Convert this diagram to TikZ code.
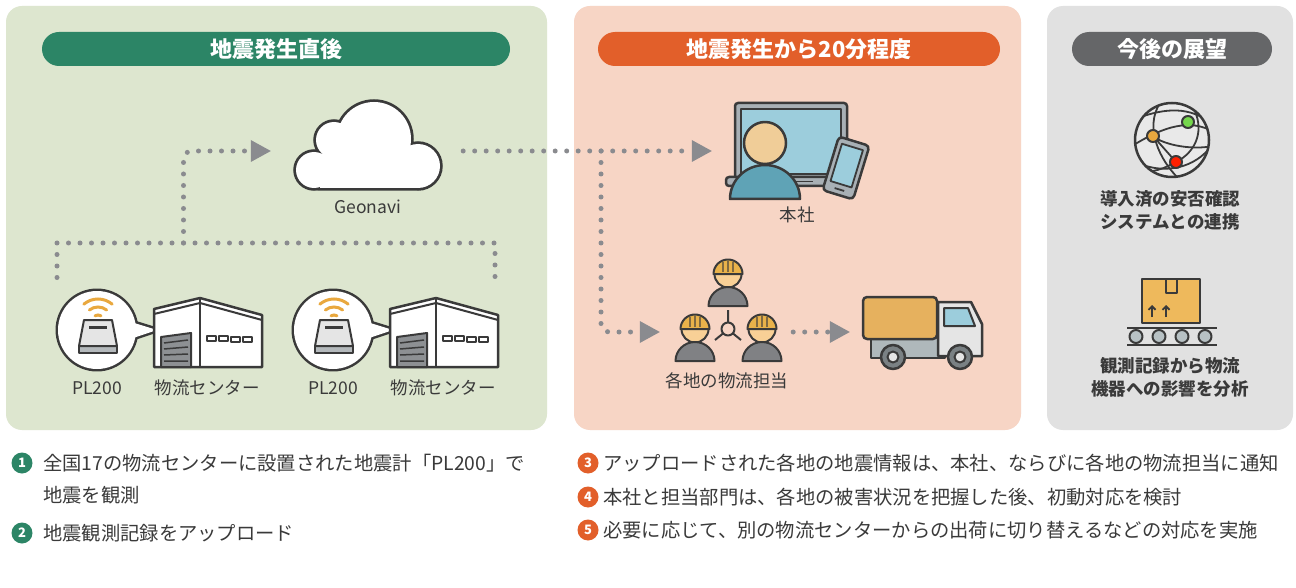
\documentclass[tikz,border=0pt]{standalone}
\usepackage{fontspec}
\setmainfont{Noto Sans CJK JP}
\usetikzlibrary{arrows.meta}

\begin{document}
\begin{tikzpicture}[x=1pt, y=-1pt,
    flowline/.style={draw=dotgray, line width=5pt, line cap=round, dash pattern=on 0pt off 11.5pt},
    flowhead/.style={-{Triangle[length=20pt, width=22pt, line width=0pt]}},
    pill/.style={rounded corners=17pt, minimum height=34pt, inner sep=0pt, text=white, font=\bfseries\fontsize{22}{24}\selectfont},
    lbl/.style={text=ink, font=\fontsize{17.5}{22}\selectfont, inner sep=0pt},
    lblbold/.style={lbl, font=\bfseries\fontsize{17.5}{23}\selectfont, align=center},
    note/.style={anchor=west, text=ink, font=\fontsize{19.3}{23}\selectfont, inner sep=0pt},
    num/.style={circle, minimum size=21pt, inner sep=0pt, text=white, font=\bfseries\fontsize{13}{13}\selectfont},
    outline/.style={draw=ink, line width=2.5pt, line join=round},
    spot/.style={minimum width=#1, minimum height=10pt, inner sep=0pt}]
  \definecolor{ink}{RGB}{58,58,58}
  \definecolor{dotgray}{RGB}{138,139,143}
  \definecolor{greenbg}{RGB}{221,230,207}
  \definecolor{orangebg}{RGB}{247,213,197}
  \definecolor{graybg}{RGB}{225,225,225}
  \definecolor{hdgreen}{RGB}{44,133,102}
  \definecolor{hdorange}{RGB}{226,95,42}
  \definecolor{hdgray}{RGB}{101,102,104}
  \definecolor{devbody}{RGB}{229,229,229}
  \definecolor{devbase}{RGB}{180,185,188}
  \definecolor{wifi}{RGB}{233,168,62}
  \definecolor{shutter}{RGB}{141,144,147}
  \definecolor{frame}{RGB}{168,176,181}
  \definecolor{screen}{RGB}{156,205,220}
  \definecolor{skin}{RGB}{240,205,152}
  \definecolor{shirt}{RGB}{95,163,182}
  \definecolor{helmet}{RGB}{233,178,74}
  \definecolor{face}{RGB}{248,208,150}
  \definecolor{suit}{RGB}{128,129,132}
  \definecolor{cargo}{RGB}{230,177,94}
  \definecolor{cab}{RGB}{229,229,229}
  \definecolor{chassis}{RGB}{175,184,187}
  \definecolor{tire}{RGB}{122,129,132}
  \definecolor{globefill}{RGB}{233,233,233}
  \definecolor{crate}{RGB}{238,185,92}
  \definecolor{roller}{RGB}{183,193,196}

  \useasboundingbox (0,0) rectangle (1296,588);
  \fill[white] (0,0) rectangle (1296,588);

  \fill[greenbg, rounded corners=16pt] (6,6) rectangle (547,430);
  \fill[orangebg, rounded corners=16pt] (574,6) rectangle (1021,430);
  \fill[graybg, rounded corners=16pt] (1047,6) rectangle (1293,430);

  \node[pill, fill=hdgreen, minimum width=468pt] (hdA) at (276,49) {地震発生直後};
  \node[pill, fill=hdorange, minimum width=402pt] (hdB) at (799,49) {地震発生から20分程度};
  \node[pill, fill=hdgray, minimum width=200pt] (hdC) at (1172,49) {今後の展望};

  \node[spot=144pt] (geo) at (368,151) {};
  \draw[ink, line width=5.5pt] (314,170) circle (18) (334,140) circle (18) (374,139) circle (37) (418,166) circle (22) (320,156) rectangle (418,188);
  \fill[white] (314,170) circle (18) (334,140) circle (18) (374,139) circle (37) (418,166) circle (22);
  \fill[white] (320,156) rectangle (418,188);
  \node[lbl] (geolbl) at (368,207) {Geonavi};

  \foreach \sx/\nm in {0/a, 236/b}{
    \begin{scope}[xshift=\sx]
      \draw[outline, line width=5pt] (97,330) circle (39);
      \draw[outline, line width=5pt] (118,318) -- (157,330) -- (118,343) -- cycle;
      \fill[white] (97,330) circle (39);
      \fill[white] (118,318) -- (157,330) -- (118,343) -- cycle;
      \node[spot=78pt] (sen\nm) at (97,330) {};
      \draw[outline, line width=2pt, fill=devbase] (79,346) rectangle (117,353);
      \draw[outline, line width=2pt, fill=devbody] (84,320) -- (112,320) -- (117,346) -- (79,346) -- cycle;
      \draw[ink, line width=3pt] (89,327) -- (107,327);
      \draw[wifi, line width=3pt, line cap=round] (98,321) ++(230:22) arc[start angle=230, end angle=310, radius=22];
      \draw[wifi, line width=3pt, line cap=round] (98,321) ++(232:14) arc[start angle=232, end angle=308, radius=14];
      \draw[wifi, line width=3pt, line cap=round] (98,321) ++(240:6) arc[start angle=240, end angle=300, radius=6];

      \node[spot=108pt] (ware\nm) at (208,335) {};
      \draw[outline, fill=white] (154,309) -- (200,298) -- (262,315) -- (262,367) -- (154,367) -- cycle;
      \draw[outline] (200,298) -- (200,367);
      \draw[outline, line width=2pt] (154,314) -- (200,303) -- (262,320);
      \draw[outline, line width=2pt, fill=shutter] (161,337) -- (191,333) -- (191,367) -- (161,367) -- cycle;
      \draw[ink, line width=1.5pt] (164,343) -- (188,340) (164,349) -- (188,347) (164,355) -- (188,354) (164,361) -- (188,361);
      \draw[outline, line width=1.6pt, fill=white] (207,336) rectangle (216,341) (219,336) rectangle (228,341) (231,337) rectangle (240,342) (243,337) rectangle (252,342);

      \node[lbl] (pl\nm) at (97,388) {PL200};
      \node[lbl] (wh\nm) at (207,388) {物流センター};
    \end{scope}
  }

  \node[spot=112pt] (hq) at (791,151) {};
  \draw[outline, fill=frame, rounded corners=3pt] (735,103) rectangle (847,180);
  \draw[outline, line width=2pt, fill=screen] (741,109) rectangle (841,174);
  \draw[outline, fill=frame, rounded corners=3pt] (726,177) rectangle (849,186);
  \draw[ink, line width=1.5pt] (796,181.5) -- (813,181.5);
  \draw[outline, fill=shirt] (730,199) arc[start angle=180, end angle=360, x radius=35, y radius=34] -- cycle;
  \draw[outline, fill=skin] (765,143) circle (21);
  \begin{scope}[shift={(846,168)}, rotate=-17]
    \draw[outline, fill=frame, rounded corners=4pt] (-16,-28) rectangle (16,28);
    \draw[outline, line width=1.8pt, fill=screen] (-11,-22) rectangle (11,17);
    \draw[ink, line width=1.8pt] (-5,22.5) -- (5,22.5);
  \end{scope}
  \node[lbl] (hqlbl) at (797,215) {本社};

  \node[spot=110pt] (team) at (728,332) {};
  \foreach \px/\py in {728/274, 695/329, 762/329}{
    \draw[outline, line width=2pt, fill=face] (\px,\py) circle (13.5);
    \draw[outline, line width=2pt, fill=helmet] (\px-14.5,\py) arc[start angle=180, end angle=360, radius=14.5] -- cycle;
    \draw[ink!60!helmet, line width=1.3pt] (\px-5,\py-2) -- (\px-5,\py-12) (\px,\py-2) -- (\px,\py-13.5) (\px+5,\py-2) -- (\px+5,\py-12);
    \draw[ink, line width=2pt] (\px-15,\py) -- (\px+15,\py);
    \draw[outline, line width=2pt, fill=suit] (\px-19.5,\py+32) arc[start angle=180, end angle=360, x radius=19.5, y radius=19] -- cycle;
  }
  \draw[outline, line width=2pt] (728,329) circle (6.5) (728,322.5) -- (728,310) (723,333.5) -- (715,340) (733,333.5) -- (741,340);
  \node[lbl] (teamlbl) at (727,381) {各地の物流担当};

  \node[spot=122pt] (truck) at (922,332) {};
  \draw[outline, fill=chassis] (871,337) -- (945,337) -- (945,358) -- (871,358) -- cycle;
  \draw[outline, fill=cab] (938,302) -- (971,302) -- (982,324) -- (982,356) -- (938,356) -- cycle;
  \draw[outline, line width=2pt, fill=screen] (944,308) -- (968,308) -- (975,326) -- (944,326) -- cycle;
  \draw[outline, fill=cargo, rounded corners=4pt] (863,297) rectangle (937,339);
  \draw[outline, fill=tire] (893,357) circle (12) (960,357) circle (12);
  \draw[outline, line width=2pt, fill=cab] (893,357) circle (5.5) (960,357) circle (5.5);

  \coordinate (busA) at (57,277.5);
  \coordinate (busB) at (495,277.5);
  \coordinate (busTop) at (183.5,243);
  \coordinate (fork) at (601,151);
  \draw[flowline] (busA) |- (busTop) -| (busB);
  \draw[flowline, flowhead, rounded corners=8pt, shorten >=25pt] (busTop) |- (geo.west);
  \draw[flowline, flowhead, shorten <=23pt, shorten >=23pt] (geo.east) -- (hq.west);
  \draw[flowline, flowhead, rounded corners=8pt, shorten >=13pt] (fork) |- (team.west);
  \draw[flowline, flowhead, shorten <=10pt, shorten >=11pt] (team.east) -- (truck.west);

  \node[spot=78pt] (globe) at (1172,140) {};
  \fill[globefill] (1172,140) circle (37);
  \begin{scope}
    \clip (1172,140) circle (37);
    \draw[ink, line width=1.8pt] (1138,118) .. controls (1165,108) and (1190,106) .. (1212,124);
    \draw[ink, line width=1.8pt] (1132,146) .. controls (1158,130) and (1185,118) .. (1210,130);
    \draw[ink, line width=1.8pt] (1136,162) .. controls (1160,174) and (1190,170) .. (1208,150);
    \draw[ink, line width=1.8pt] (1160,103) .. controls (1144,128) and (1160,160) .. (1178,178);
    \draw[ink, line width=1.8pt] (1192,105) .. controls (1206,130) and (1196,152) .. (1176,162) .. controls (1165,168) and (1152,174) .. (1140,170);
    \draw[ink, line width=1.8pt] (1153,136) -- (1176,162) (1153,136) .. controls (1165,146) and (1195,150) .. (1212,146);
  \end{scope}
  \draw[outline] (1172,140) circle (37);
  \draw[outline, line width=2pt, fill=wifi] (1153,136) circle (6);
  \draw[outline, line width=2pt, fill=green!55!olive!70!white] (1188,122) circle (6);
  \draw[outline, line width=2pt, fill=red!75!orange] (1176,162) circle (6);
  \node[lblbold] (globelbl) at (1170,210) {導入済の安否確認\\システムとの連携};

  \node[spot=90pt] (belt) at (1172,312) {};
  \draw[outline, fill=crate] (1142,279) rectangle (1200,323);
  \draw[outline, line width=2pt] (1166,279) -- (1166,293) -- (1177,293) -- (1177,279);
  \draw[ink, line width=1.8pt, -{Straight Barb[length=3.5pt, width=7pt]}] (1152,317) -- (1152,305);
  \draw[ink, line width=1.8pt, -{Straight Barb[length=3.5pt, width=7pt]}] (1166,317) -- (1166,305);
  \draw[ink, line width=2.5pt] (1127,328) -- (1217,328) (1127,345) -- (1217,345);
  \draw[outline, line width=2pt, fill=roller] (1136,336.5) circle (6.5) (1159,336.5) circle (6.5) (1182,336.5) circle (6.5) (1205,336.5) circle (6.5);
  \node[lblbold] (beltlbl) at (1170,377) {観測記録から物流\\機器への影響を分析};

  \node[num, fill=hdgreen] (n1) at (22,463) {1};
  \node[note] (t1) at (43,463) {全国17の物流センターに設置された地震計「PL200」で};
  \node[note] (t1b) at (43,495) {地震を観測};
  \node[num, fill=hdgreen] (n2) at (22,533) {2};
  \node[note] (t2) at (43,533) {地震観測記録をアップロード};
  \node[num, fill=hdorange] (n3) at (588,463) {3};
  \node[note] (t3) at (603,463) {アップロードされた各地の地震情報は、本社、ならびに各地の物流担当に通知};
  \node[num, fill=hdorange] (n4) at (588,497) {4};
  \node[note] (t4) at (603,497) {本社と担当部門は、各地の被害状況を把握した後、初動対応を検討};
  \node[num, fill=hdorange] (n5) at (588,530) {5};
  \node[note] (t5) at (603,530) {必要に応じて、別の物流センターからの出荷に切り替えるなどの対応を実施};
\end{tikzpicture}
\end{document}
